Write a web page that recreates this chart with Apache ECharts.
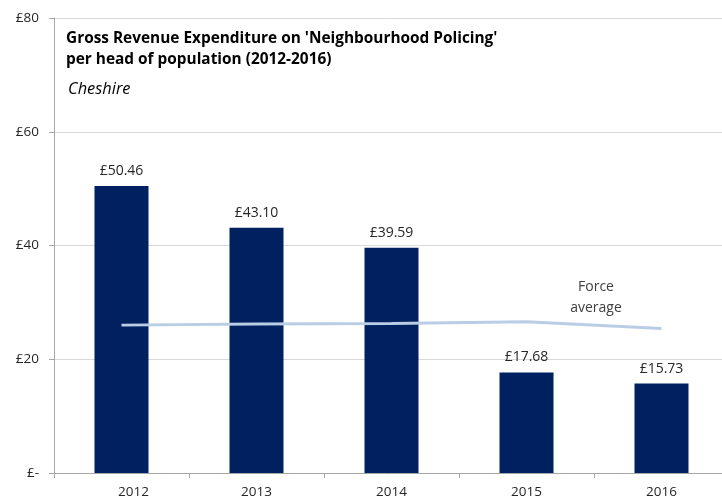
<!DOCTYPE html>
<html>
<head>
<meta charset="utf-8">
<style>
  html, body { margin: 0; padding: 0; background: #ffffff; overflow: hidden; }
  #chart { width: 729px; height: 499px; }
</style>
<script src="https://cdn.jsdelivr.net/npm/echarts@6/dist/echarts.min.js"></script>
</head>
<body>
<div id="chart"></div>
<script>
// Years shown along the category axis
const years = ['2012', '2013', '2014', '2015', '2016'];
// Cheshire spend per head (£)
const cheshireSpend = [50.46, 43.10, 39.59, 17.68, 15.73];
// Average across all forces (£)
const forceAverage = [26.0, 26.2, 26.3, 26.6, 25.4];
// Value axis ticks
const yTicks = [0, 20, 40, 60, 80];

const FONT = '"Open Sans", "Liberation Sans", sans-serif';

const chart = echarts.init(document.getElementById('chart'), null, { renderer: 'canvas' });

chart.setOption({
  animation: false,
  backgroundColor: '#ffffff',
  textStyle: { fontFamily: FONT },
  // the plot runs slightly past the right edge of the visible page
  grid: { left: 54, top: 18, right: 0, bottom: 26, containLabel: false },
  graphic: [
    {
      type: 'text', left: 66, top: 28,
      style: {
        text: "Gross Revenue Expenditure on 'Neighbourhood Policing'\nper head of population (2012-2016)",
        font: 'bold 15.4px ' + FONT, fill: '#000000', lineHeight: 21
      }
    },
    {
      type: 'text', left: 68, top: 81,
      style: { text: 'Cheshire', font: 'italic 16.4px ' + FONT, fill: '#000000' }
    },
    {
      type: 'text', x: 596, y: 277,
      style: {
        text: 'Force\naverage', font: '14px ' + FONT, fill: '#404040',
        align: 'center', verticalAlign: 'top', lineHeight: 21
      }
    }
  ],
  xAxis: {
    type: 'category',
    data: years,
    axisLine: { lineStyle: { color: '#a6a6a6', width: 1 } },
    axisTick: { show: true, alignWithLabel: false, length: 5, lineStyle: { color: '#a6a6a6' } },
    axisLabel: {
      color: '#262626', fontSize: 13.5, margin: 12, fontFamily: FONT,
      // the first year label sits a little to the right of its bar
      formatter: (v, i) => i === 0 ? '{first|' + v + '}' : v,
      rich: { first: { fontSize: 13.5, fontFamily: FONT, color: '#262626', padding: [0, 0, 0, 24] } }
    },
    splitLine: { show: false }
  },
  yAxis: {
    type: 'value',
    min: yTicks[0],
    max: yTicks[yTicks.length - 1],
    interval: 20,
    axisLine: { show: true, lineStyle: { color: '#a6a6a6', width: 1 } },
    axisTick: { show: true, length: 5, lineStyle: { color: '#a6a6a6' } },
    axisLabel: {
      color: '#262626', fontSize: 13.5, margin: 15, fontFamily: FONT,
      formatter: v => v === 0 ? '£-' : '£' + v
    },
    splitLine: { show: true, lineStyle: { color: '#d9d9d9', width: 1 } }
  },
  series: [
    {
      name: 'Cheshire',
      type: 'bar',
      data: cheshireSpend,
      barWidth: 54,
      itemStyle: { color: '#002060' },
      label: {
        show: true, position: 'top', distance: 8,
        color: '#262626', fontSize: 14, fontFamily: FONT,
        formatter: p => '£' + p.value.toFixed(2)
      },
      z: 2
    },
    {
      name: 'Force average',
      type: 'line',
      data: forceAverage,
      symbol: 'none',
      smooth: false,
      lineStyle: { color: '#b9cde5', width: 3 },
      z: 3
    }
  ]
});
</script>
</body>
</html>
